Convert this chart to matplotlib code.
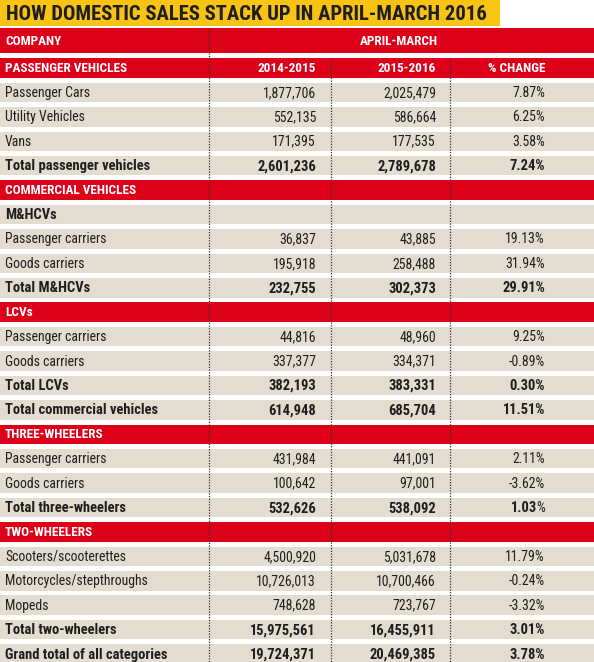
import matplotlib
matplotlib.use("Agg")
import matplotlib.pyplot as plt
from matplotlib import font_manager
from matplotlib.patches import Rectangle

# datos de la tabla
title = "HOW DOMESTIC SALES STACK UP IN APRIL-MARCH 2016"
col_headers = ["2014-2015", "2015-2016", "% CHANGE"]

labels = [
    "PASSENGER VEHICLES", "Passenger Cars", "Utility Vehicles", "Vans",
    "Total passenger vehicles", "COMMERCIAL VEHICLES", "M&HCVs",
    "Passenger carriers", "Goods carriers", "Total M&HCVs", "LCVs",
    "Passenger carriers", "Goods carriers", "Total LCVs",
    "Total commercial vehicles", "THREE-WHEELERS", "Passenger carriers",
    "Goods carriers", "Total three-wheelers", "TWO-WHEELERS",
    "Scooters/scooterettes", "Motorcycles/stepthroughs", "Mopeds",
    "Total two-wheelers", "Grand total of all categories",
]
# tipo de fila: section (rojo), item, total (negrita), sub (subtítulo en negrita)
kinds = [
    "section", "item", "item", "item", "total", "section", "sub",
    "item", "item", "total", "section", "item", "item", "total",
    "total", "section", "item", "item", "total", "section",
    "item", "item", "item", "total", "total",
]
sales_2015 = [
    None, 1877706, 552135, 171395, 2601236, None, None,
    36837, 195918, 232755, None, 44816, 337377, 382193,
    614948, None, 431984, 100642, 532626, None,
    4500920, 10726013, 748628, 15975561, 19724371,
]
sales_2016 = [
    None, 2025479, 586664, 177535, 2789678, None, None,
    43885, 258488, 302373, None, 48960, 334371, 383331,
    685704, None, 441091, 97001, 538092, None,
    5031678, 10700466, 723767, 16455911, 20469385,
]
pct_change = [
    None, 7.87, 6.25, 3.58, 7.24, None, None,
    19.13, 31.94, 29.91, None, 9.25, -0.89, 0.30,
    11.51, None, 2.11, -3.62, 1.03, None,
    11.79, -0.24, -3.32, 3.01, 3.78,
]
# en la imagen el "%" de esta fila no va en negrita
plain_pct_rows = [18]

# colores
YELLOW = "#f8c313"
RED = "#dc0019"
BEIGE = "#e2ddd0"
DARK = "#1e1e1e"

# fuente estrecha si hay alguna instalada
installed = {f.name for f in font_manager.fontManager.ttflist}
FONT = "Roboto"
for cand in ["Roboto Condensed", "Liberation Sans Narrow", "Open Sans Condensed"]:
    if cand in installed:
        FONT = cand
        break

W, H = 594, 662
fig = plt.figure(figsize=(W / 100, H / 100), dpi=100)
ax = fig.add_axes([0, 0, 1, 1])
ax.set_xlim(0, W)
ax.set_ylim(H, 0)
ax.axis("off")
renderer = fig.canvas.get_renderer()


def text_width(s, weight, size):
    tt = ax.text(0, 0, s, fontsize=size, fontweight=weight, family=FONT)
    w = tt.get_window_extent(renderer).width
    tt.remove()
    return w


def fit_size(s, weight, target_px, base=10):
    # ajustar el tamaño para que el texto mida lo mismo que en la imagen
    return base * target_px / text_width(s, weight, base)


size_title = fit_size(title, "heavy", 481)
size_head = fit_size("PASSENGER VEHICLES", "bold", 122)
size_body = fit_size("Passenger Cars", "normal", 85)
size_bold = fit_size("Total passenger vehicles", "bold", 145)

# titulo
ax.add_patch(Rectangle((0, 0), 500, 25.5, color=YELLOW, lw=0))
ax.text(6, 14, title, fontsize=size_title, fontweight="heavy", family=FONT,
        color=DARK, ha="left", va="center")

# cabecera COMPANY / APRIL-MARCH
ax.add_patch(Rectangle((0, 27.5), W, 25.5, color=RED, lw=0))
ax.text(5, 41.5, "COMPANY", fontsize=size_head, fontweight="bold", family=FONT,
        color="white", ha="left", va="center")
ax.text(399, 41.5, "APRIL-MARCH", fontsize=size_head, fontweight="bold", family=FONT,
        color="white", ha="center", va="center")

x_cols = [316, 436, 545]
row0 = 68.0
step = 24.42
cell_h = 19.5

for i, (lab, kind) in enumerate(zip(labels, kinds)):
    yc = row0 + i * step
    face = RED if kind == "section" else BEIGE
    ax.add_patch(Rectangle((0, yc - cell_h / 2), W, cell_h, color=face, lw=0))
    if kind == "section":
        ax.text(5, yc + 0.5, lab, fontsize=size_head, fontweight="bold", family=FONT,
                color="white", ha="left", va="center")
        if i == 0:
            for x, h in zip(x_cols, col_headers):
                ax.text(x, yc + 0.5, h, fontsize=size_head, fontweight="bold",
                        family=FONT, color="white", ha="right", va="center")
        continue
    bold = kind in ("total", "sub")
    weight = "bold" if bold else "normal"
    size = size_bold if bold else size_body
    ax.text(5, yc + 0.5, lab, fontsize=size, fontweight=weight, family=FONT,
            color=DARK, ha="left", va="center")
    if sales_2015[i] is None:
        continue
    vals = [f"{sales_2015[i]:,}", f"{sales_2016[i]:,}"]
    for x, v in zip(x_cols[:2], vals):
        ax.text(x, yc + 0.5, v, fontsize=size, fontweight=weight, family=FONT,
                color=DARK, ha="right", va="center")
    if i in plain_pct_rows:
        # "%" normal y el número en negrita
        wpc = (text_width("0%", "normal", size_body)
               - text_width("0", "normal", size_body))
        ax.text(x_cols[2], yc + 0.5, "%", fontsize=size_body, family=FONT,
                color=DARK, ha="right", va="center")
        ax.text(x_cols[2] - wpc + 1.2, yc + 0.5, f"{pct_change[i]:.2f}", fontsize=size,
                fontweight=weight, family=FONT, color=DARK, ha="right", va="center")
    else:
        ax.text(x_cols[2], yc + 0.5, f"{pct_change[i]:.2f}%", fontsize=size,
                fontweight=weight, family=FONT, color=DARK, ha="right", va="center")

# lineas punteadas verticales
ax.vlines(209, 27.5, H, colors="#333333", linestyles=(0, (1, 1.2)), lw=0.9)
ax.vlines([331, 450], row0 - cell_h / 2, H, colors="#333333",
          linestyles=(0, (1, 1.2)), lw=0.9)

fig.savefig("out.png", dpi=100)
